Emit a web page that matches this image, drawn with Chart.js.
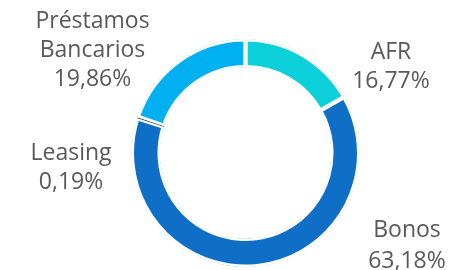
<!DOCTYPE html>
<html>
<head>
<meta charset="utf-8">
<script src="https://cdn.jsdelivr.net/npm/chart.js@4/dist/chart.umd.min.js"></script>
<style>
  html, body { margin: 0; padding: 0; background: #ffffff; }
  #wrap { width: 452px; height: 270px; position: relative; }
</style>
</head>
<body>
<div id="wrap"><canvas id="c" width="452" height="270"></canvas></div>
<script>
const categories = ['AFR', 'Bonos', 'Leasing', 'Préstamos Bancarios'];
const categoryLines = [['AFR'], ['Bonos'], ['Leasing'], ['Préstamos', 'Bancarios']];
const shares = [16.77, 63.18, 0.19, 19.86];
const sliceColors = ['#0BD0D9', '#0F6FC6', '#3E4F6E', '#00B0F0'];

const labelPlacement = [
  { x: 391, y: 59, lh: 29 },
  { x: 407, y: 237, lh: 31 },
  { x: 71, y: 160, lh: 28.5 },
  { x: 92.5, y: 28, lh: 29 }
];

const fmt = v => v.toFixed(2).replace('.', ',') + '%';

const labelPlugin = {
  id: 'sliceLabels',
  afterDatasetsDraw(chart) {
    const ctx = chart.ctx;
    ctx.save();
    ctx.font = '23px "Open Sans"';
    ctx.fillStyle = '#595959';
    ctx.textAlign = 'center';
    ctx.textBaseline = 'alphabetic';
    categories.forEach((cat, i) => {
      const p = labelPlacement[i];
      const lines = categoryLines[i].concat([fmt(shares[i])]);
      lines.forEach((t, j) => ctx.fillText(t, p.x, p.y + j * p.lh));
    });
    ctx.restore();
  }
};

new Chart(document.getElementById('c'), {
  type: 'doughnut',
  data: {
    labels: categories,
    datasets: [{
      data: shares,
      backgroundColor: sliceColors,
      borderColor: '#ffffff',
      borderWidth: [2.2, 2.2, 0, 2.2],
      borderAlign: 'inner',
      hoverBorderWidth: 0
    }]
  },
  options: {
    responsive: false,
    animation: false,
    cutout: '75%',
    layout: { padding: { left: 39, right: 0, top: 39, bottom: 3 } },
    plugins: { legend: { display: false }, tooltip: { enabled: false } },
    events: []
  },
  plugins: [labelPlugin]
});
</script>
</body>
</html>
